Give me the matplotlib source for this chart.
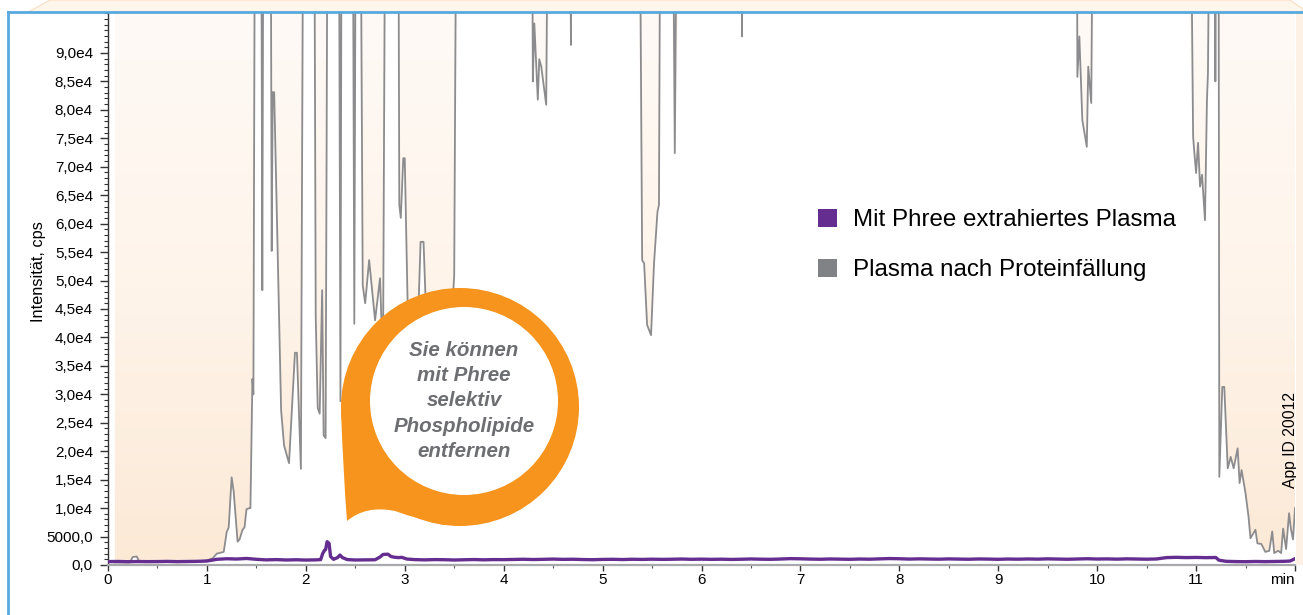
import numpy as np
import matplotlib
matplotlib.use('Agg')
import matplotlib.pyplot as plt
from matplotlib.patches import Circle, Rectangle, Polygon, PathPatch, Patch
from matplotlib.path import Path
from matplotlib.ticker import MultipleLocator, FuncFormatter
from matplotlib.colors import LinearSegmentedColormap

plt.rcParams['font.family'] = ['Liberation Sans', 'DejaVu Sans']

SAT = 150000  # off-scale, clipped by the axes top
Y_TOP = 97200

# Plasma nach Proteinfällung (grey trace)
GREY_T = [0.07, 0.22, 0.25, 0.29, 0.32, 0.60, 0.90, 1.00, 1.06, 1.10, 1.17, 1.20,
          1.22, 1.25, 1.27, 1.31, 1.33, 1.36, 1.38, 1.40, 1.43, 1.44, 1.46, 1.47,
          1.49, 1.545, 1.56, 1.575, 1.64, 1.655, 1.665, 1.68, 1.75, 1.78, 1.83, 1.89,
          1.91, 1.95, 1.98, 2.08, 2.10, 2.12, 2.14, 2.165, 2.18, 2.20, 2.225, 2.33,
          2.35, 2.365, 2.47, 2.49, 2.51, 2.545, 2.575, 2.60, 2.64, 2.70, 2.75, 2.78,
          2.81, 2.93, 2.945, 2.96, 2.985, 3.00, 3.03, 3.07, 3.12, 3.16, 3.19, 3.22,
          3.28, 3.38, 3.45, 3.50, 3.53, 4.28, 4.295, 4.31, 4.33, 4.345, 4.36, 4.38,
          4.43, 4.46, 4.665, 4.68, 4.695, 5.365, 5.40, 5.42, 5.45, 5.49, 5.52, 5.555,
          5.57, 5.59, 5.70, 5.73, 5.765, 6.40, 6.41, 6.42, 9.79, 9.80, 9.82, 9.85,
          9.895, 9.91, 9.94, 9.97, 10.93, 10.97, 10.98, 11.00, 11.02, 11.04, 11.06, 11.09,
          11.11, 11.12, 11.15, 11.185, 11.195, 11.205, 11.225, 11.235, 11.265, 11.285, 11.32, 11.35,
          11.38, 11.42, 11.44, 11.46, 11.50, 11.53, 11.55, 11.60, 11.62, 11.66, 11.70, 11.74,
          11.77, 11.79, 11.83, 11.86, 11.88, 11.91, 11.94, 11.96, 11.98, 12.00]
GREY_V = [450, 450, 1400, 1500, 500, 650, 650, 800, 1200, 2000, 2300, 5800,
          6600, 15400, 13000, 4100, 4500, 6200, 6600, 9800, 10000, 10000, 32700, 30000,
          SAT, SAT, 48300, SAT, SAT, 55200, 83100, 83100, 27200, 21000, 17900, 37300,
          37300, 16900, SAT, SAT, 43600, 27600, 26600, 48300, 22800, 22300, SAT, SAT,
          28800, SAT, SAT, 42400, SAT, SAT, 49200, 46000, 53600, 43000, 50400, 34800,
          SAT, SAT, 63300, 61000, 71500, 71500, 45000, 30000, 35000, 56800, 56800, 42000,
          30000, 28000, 35000, 51000, SAT, SAT, 85000, 95200, 87600, 81800, 88900, 87600,
          80900, SAT, SAT, 91400, SAT, SAT, 53600, 53000, 42200, 40400, 53000, 62100,
          63300, SAT, SAT, 72400, SAT, SAT, 92900, SAT, SAT, 85800, 92900, 78200,
          73500, 87600, 81200, SAT, SAT, 75300, 73000, 68900, 74200, 66500, 68600, 60600,
          81800, 86400, SAT, SAT, 85000, SAT, SAT, 15500, 31300, 31300, 17000, 19000,
          17000, 20500, 14400, 16700, 12600, 8500, 4700, 6200, 3800, 3700, 2300, 2500,
          5900, 2100, 2500, 2100, 6400, 2800, 9100, 6200, 4500, 10000]

# Mit Phree extrahiertes Plasma (purple trace)
PURPLE_T = [0.0, 0.1, 0.2, 0.3, 0.4, 0.5, 0.6, 0.7, 0.8, 0.9, 1.0, 1.1,
            1.2, 1.3, 1.4, 1.5, 1.6, 1.7, 1.8, 1.9, 2.0, 2.1, 2.15, 2.17,
            2.19, 2.20, 2.215, 2.235, 2.25, 2.28, 2.32, 2.345, 2.37, 2.42, 2.5, 2.6,
            2.7, 2.75, 2.78, 2.83, 2.86, 2.9, 2.94, 2.97, 3.02, 3.1, 3.2, 3.3,
            3.4, 3.5, 3.6, 3.7, 3.8, 3.9, 4.0, 4.1, 4.2, 4.3, 4.4, 4.5,
            4.6, 4.7, 4.8, 4.9, 5.0, 5.1, 5.2, 5.3, 5.4, 5.5, 5.6, 5.7,
            5.8, 5.9, 6.0, 6.1, 6.2, 6.3, 6.4, 6.5, 6.6, 6.7, 6.8, 6.9,
            7.0, 7.1, 7.2, 7.3, 7.4, 7.5, 7.6, 7.7, 7.8, 7.9, 8.0, 8.1,
            8.2, 8.3, 8.4, 8.5, 8.6, 8.7, 8.8, 8.9, 9.0, 9.1, 9.2, 9.3,
            9.4, 9.5, 9.6, 9.7, 9.8, 9.9, 10.0, 10.1, 10.2, 10.3, 10.4, 10.5,
            10.6, 10.7, 10.8, 10.9, 11.0, 11.1, 11.2, 11.23, 11.3, 11.4, 11.5, 11.6,
            11.7, 11.8, 11.9, 11.95, 12.0]
PURPLE_V = [600, 620, 580, 610, 590, 600, 630, 590, 610, 640, 700, 1000,
            1100, 1050, 1150, 1000, 900, 950, 880, 920, 870, 900, 950, 2000,
            2600, 2700, 4100, 3800, 1500, 1000, 1300, 1750, 1300, 950, 880, 900,
            920, 1400, 1850, 1900, 1500, 1350, 1300, 1350, 1050, 950, 900, 950,
            930, 880, 920, 960, 910, 950, 940, 980, 1010, 960, 1000, 1040,
            990, 1010, 960, 930, 980, 1000, 960, 1010, 980, 1020, 990, 1010,
            1050, 1000, 1030, 990, 1020, 980, 1010, 1060, 1020, 1000, 1050, 1120,
            1090, 1040, 1010, 1060, 1030, 1000, 1050, 1020, 1080, 1130, 1100, 1040,
            1080, 1050, 1020, 1070, 1040, 1010, 1060, 1040, 1000, 1050, 1020, 1060,
            1030, 1080, 1040, 1010, 1060, 1100, 1050, 1070, 1030, 1080, 1050, 1020,
            1060, 1300, 1350, 1300, 1330, 1290, 1320, 850, 650, 600, 580, 620,
            590, 620, 650, 700, 1100]

X_TICKS = list(range(13))
X_LABELS = [str(i) for i in range(12)] + ['min']
Y_TICKS = list(range(0, 90001, 5000))
SERIES_LABELS = ['Mit Phree extrahiertes Plasma', 'Plasma nach Proteinfällung']
SERIES_COLORS = ['#662D91', '#808285']
BUBBLE_TEXT = 'Sie können\nmit Phree\nselektiv\nPhospholipide\nentfernen'

W, H = 1303, 615


def y_fmt(v, pos):
    if v == 0:
        return '0,0'
    if v == 5000:
        return '5000,0'
    return '{:.1f}e4'.format(v / 1e4).replace('.', ',')


fig = plt.figure(figsize=(W / 100, H / 100), dpi=100)
ax = fig.add_axes([108 / W, 50 / H, 1187 / W, 553 / H])

t = np.array(GREY_T)
g = np.array(GREY_V, dtype=float)

# peach shading above the grey trace
fb = ax.fill_between(t, np.minimum(g, Y_TOP), Y_TOP, facecolor='none', edgecolor='none')
peach = LinearSegmentedColormap.from_list('peach', ['#FCE9D6', '#FEF4EA', '#FFFAF6'])
grad = np.linspace(0, 1, 256).reshape(-1, 1)
im = ax.imshow(grad, extent=[0, 12, 0, Y_TOP], origin='lower', aspect='auto',
               cmap=peach, zorder=0.5, interpolation='bilinear')
im.set_clip_path(fb.get_paths()[0], transform=ax.transData)

ax.plot(t, g, color='#8C8C8E', lw=1.3, zorder=2, solid_joinstyle='round')
ax.plot(PURPLE_T, PURPLE_V, color=SERIES_COLORS[0], lw=2.4, zorder=3,
        solid_joinstyle='round')

ax.set_xlim(0, 12)
ax.set_ylim(0, Y_TOP)

for side in ['top', 'right']:
    ax.spines[side].set_visible(False)
ax.spines['left'].set_color('#333333')
ax.spines['left'].set_linewidth(1.0)
ax.spines['bottom'].set_color('#A7A9AC')
ax.spines['bottom'].set_linewidth(1.6)

ax.set_xticks(X_TICKS)
xlabels = ax.set_xticklabels(X_LABELS)
xlabels[-1].set_horizontalalignment('right')
ax.xaxis.set_minor_locator(MultipleLocator(0.5))
ax.tick_params(axis='x', which='major', direction='out', length=4, width=1,
               color='#333333', labelsize=11, pad=2)
ax.tick_params(axis='x', which='minor', direction='out', length=2.2, width=0.8,
               color='#555555')

ax.set_yticks(Y_TICKS)
ax.yaxis.set_major_formatter(FuncFormatter(y_fmt))
ax.yaxis.set_minor_locator(MultipleLocator(1000))
ax.tick_params(axis='y', which='major', direction='out', length=5.8, width=1,
               color='#333333', labelsize=11, pad=5)
ax.tick_params(axis='y', which='minor', direction='out', length=3, width=0.8,
               color='#333333')

ax.set_ylabel('Intensität, cps', fontsize=11.8)
ax.yaxis.set_label_coords((46 - 108) / 1187, (565 - 271.5) / 553)

handles = [Patch(facecolor=c, edgecolor='none') for c in SERIES_COLORS]
ax.legend(handles, SERIES_LABELS, loc='upper left',
          bbox_to_anchor=(818 / W, 1 - 209 / H), bbox_transform=fig.transFigure,
          frameon=False, fontsize=17.4, handlelength=0.78, handleheight=0.78,
          handletextpad=0.66, labelspacing=1.12, borderpad=0, borderaxespad=0)

fig.text(1291 / W, 1 - 440 / H, 'App ID 20012', rotation=90, ha='center',
         va='center', fontsize=11.3)

# overlay in pixel coordinates: page frame and speech bubble
ov = fig.add_axes([0, 0, 1, 1], zorder=5)
ov.set_xlim(0, W)
ov.set_ylim(H, 0)
ov.axis('off')
ov.patch.set_alpha(0)

ov.add_patch(Polygon([(28, 12), (50, 0), (1290, 0), (1303, 9), (1303, 12)],
                     facecolor='#FEF5EB', edgecolor='#F8DEC4', lw=0.8))
ov.add_patch(Rectangle((1295.5, 12), 8, 553, facecolor='#FDF0E4', edgecolor='none'))
ov.plot([8, 8], [H, 12], color='#58A9DE', lw=2.0, solid_capstyle='projecting')
ov.plot([8, W], [12, 12], color='#58A9DE', lw=2.0, solid_capstyle='projecting')

orange = '#F7941D'
ov.add_patch(Circle((460, 407), 119, facecolor=orange, edgecolor='none'))
tail = Path([(341, 410), (343, 470), (347, 521), (366, 505), (395, 511),
             (420, 520), (445, 525), (460, 407), (341, 410)],
            [Path.MOVETO, Path.CURVE3, Path.CURVE3, Path.CURVE3, Path.CURVE3,
             Path.CURVE3, Path.CURVE3, Path.LINETO, Path.CLOSEPOLY])
ov.add_patch(PathPatch(tail, facecolor=orange, edgecolor='none'))
ov.add_patch(Circle((464, 401), 94, facecolor='white', edgecolor='none'))
ov.text(464, 401, BUBBLE_TEXT, ha='center', va='center', fontsize=14.8,
        fontweight='bold', fontstyle='italic', color='#6D6E71', linespacing=1.42)

fig.savefig('out.png', dpi=100)
